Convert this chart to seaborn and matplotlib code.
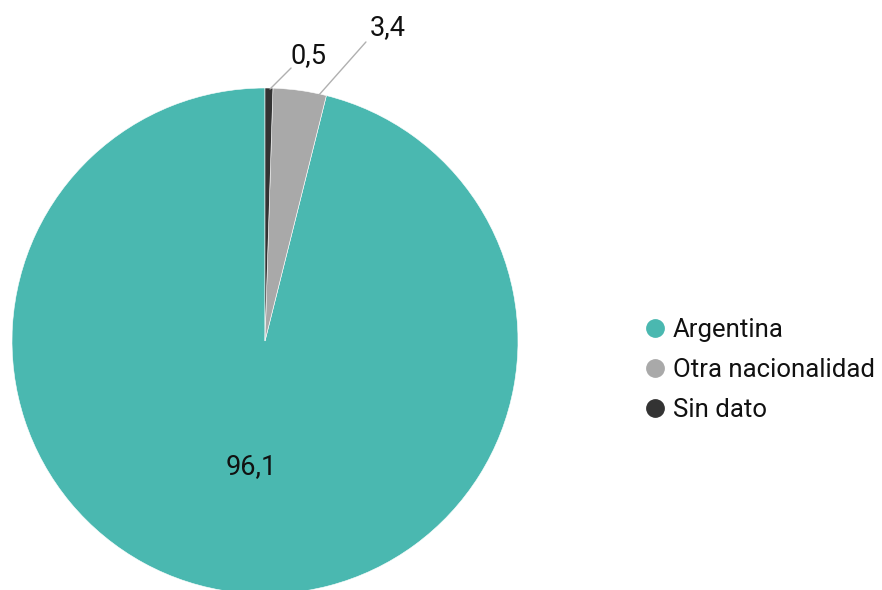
import matplotlib
matplotlib.use("Agg")
import matplotlib.pyplot as plt
from matplotlib.lines import Line2D
import seaborn as sns

categories = ["Argentina", "Otra nacionalidad", "Sin dato"]
values = [96.1, 3.4, 0.5]
value_labels = ["96,1", "3,4", "0,5"]
colors = ["#4ab8b0", "#a9a9a9", "#333333"]

sns.set_theme(style="white")
plt.rcParams["font.family"] = ["Roboto", "DejaVu Sans"]

W, H = 882, 590
fig = plt.figure(figsize=(W / 100, H / 100), dpi=100)
fig.patch.set_facecolor("white")

# pie centred at (265, 341) px with radius 253 px
cx, cy, r = 265, 341, 253
ax = fig.add_axes([(cx - r) / W, (H - cy - r) / H, 2 * r / W, 2 * r / H])

wedges, _ = ax.pie(values, colors=colors, startangle=90, counterclock=True,
                   radius=1, wedgeprops=dict(linewidth=0.4, edgecolor="white"))
for w in wedges:
    w.set_clip_on(False)
ax.set_xlim(-1, 1)
ax.set_ylim(-1, 1)
ax.set_aspect("equal")
ax.axis("off")

num_size = 19.5
# inside label for the large slice
ax.text(-0.055, -0.495, value_labels[0], ha="center", va="center",
        fontsize=num_size, color="#111111")

# leader lines with outside labels for the small slices
ax.plot([0.213, 0.399], [0.972, 1.182], color="#b0b0b0", lw=1, clip_on=False)
ax.text(0.486, 1.237, value_labels[1], ha="center", va="center",
        fontsize=num_size, color="#111111")
ax.plot([0.020, 0.103], [0.996, 1.079], color="#b0b0b0", lw=1, clip_on=False)
ax.text(0.170, 1.130, value_labels[2], ha="center", va="center",
        fontsize=num_size, color="#111111")

handles = [Line2D([0], [0], marker="o", linestyle="", markersize=12.5,
                  markerfacecolor=c, markeredgecolor=c) for c in colors]
fig.legend(handles, categories, loc="center left",
           bbox_to_anchor=(632 / W, (H - 370) / H), frameon=False,
           fontsize=18.5, handletextpad=0.2, labelspacing=0.62,
           handlelength=1.0, labelcolor="#111111", borderaxespad=0)

fig.savefig("out.png", dpi=100)
